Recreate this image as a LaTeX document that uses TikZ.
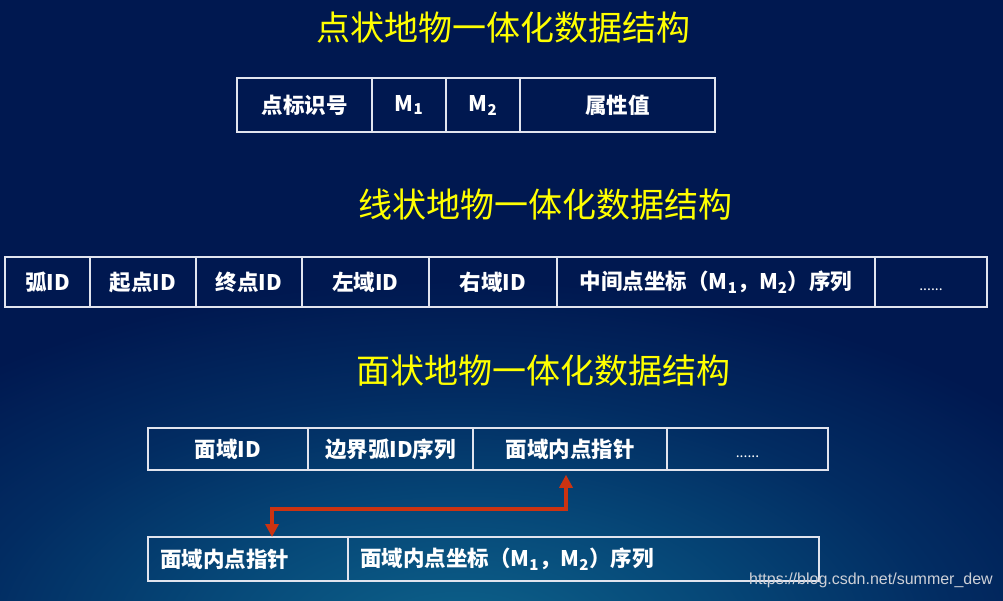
\documentclass[tikz,border=0pt]{standalone}
\usepackage{fontspec}
\setmainfont{Noto Sans CJK SC}
\newfontfamily\wmfont{Liberation Sans}
\usetikzlibrary{arrows.meta}
\definecolor{navy}{RGB}{0,24,80}
\definecolor{glowA}{RGB}{14,100,140}
\definecolor{glowB}{RGB}{6,72,120}
\definecolor{glowC}{RGB}{2,44,98}
\definecolor{boxline}{RGB}{225,228,238}
\definecolor{titleyellow}{RGB}{255,255,0}
\definecolor{arrowred}{RGB}{204,51,17}
\definecolor{wmgray}{RGB}{205,208,215}
\pgfdeclareradialshading{bgglow}{\pgfpoint{0bp}{0bp}}{color(0bp)=(glowA); color(9bp)=(glowB); color(17bp)=(glowC); color(25bp)=(navy); color(50bp)=(navy)}
\begin{document}
\begin{tikzpicture}[x=1pt,y=-1pt,
  title/.style={text=titleyellow, font=\fontsize{34}{34}\selectfont, inner sep=0pt},
  cell/.style={draw=boxline, line width=1.5pt, text=white, font=\bfseries\fontsize{21.5}{21.5}\selectfont, inner sep=0pt},
  prow/.style={cell, minimum height=54pt},
  lrow/.style={cell, minimum height=50pt},
  frow/.style={cell, minimum height=42pt},
  irow/.style={cell, minimum height=44pt, inner xsep=12pt, align=left},
  dots/.style={font=\fontsize{14}{14}\selectfont, text height=17pt, text depth=0pt},
  ptr/.style={draw=arrowred, line width=3.2pt, {Triangle[length=13pt,width=13pt]}-{Triangle[length=13pt,width=13pt]}},
]
\useasboundingbox (0,0) rectangle (1003,600);
\fill[navy] (0,0) rectangle (1003,600);
\begin{scope}
  \clip (0,0) rectangle (1003,600);
  \shade[shading=bgglow] (460,640) ellipse (720 and 360);
\end{scope}

% titles
\node[title] (t1) at (503.5,28) {点状地物一体化数据结构};
\node[title] (t2) at (545,205) {线状地物一体化数据结构};
\node[title] (t3) at (543,371) {面状地物一体化数据结构};

% point structure
\node[prow, minimum width=135pt] (p1) at (304.5,105) {点标识号};
\node[prow, minimum width=74pt]  (p2) at (409,105) {M\textsubscript{1}};
\node[prow, minimum width=74pt]  (p3) at (483,105) {M\textsubscript{2}};
\node[prow, minimum width=195pt] (p4) at (617.5,105) {属性值};

% line structure
\node[lrow, minimum width=85pt]  (l1) at (47.5,282) {弧ID};
\node[lrow, minimum width=106pt] (l2) at (143,282) {起点ID};
\node[lrow, minimum width=106pt] (l3) at (249,282) {终点ID};
\node[lrow, minimum width=127pt] (l4) at (365.5,282) {左域ID};
\node[lrow, minimum width=128pt] (l5) at (493,282) {右域ID};
\node[lrow, minimum width=318pt] (l6) at (716,282) {中间点坐标（M\textsubscript{1}，M\textsubscript{2}）序列};
\node[lrow, dots, minimum width=112pt] (l7) at (931,282) {......};

% face structure
\node[frow, minimum width=160pt] (f1) at (228,449) {面域ID};
\node[frow, minimum width=165pt] (f2) at (390.5,449) {边界弧ID序列};
\node[frow, minimum width=194pt] (f3) at (570,449) {面域内点指针};
\node[frow, dots, minimum width=161pt] (f4) at (747.5,449) {......};

% inner point structure
\node[irow, text width=176pt] (i1) at (248,559) {面域内点指针};
\node[irow, text width=447pt] (i2) at (583.5,559) {面域内点坐标（M\textsubscript{1}，M\textsubscript{2}）序列};

% pointer arrow
\coordinate (hz) at (272,509);
\coordinate (tgt) at (272,537);
\draw[ptr] ([xshift=-4pt,yshift=-4pt]f3.south) |- (hz) -- (tgt);

% watermark
\node[anchor=east, text=wmgray, font=\wmfont\fontsize{16}{16}\selectfont, inner sep=0pt] (wm) at (993,580) {https://blog.csdn.net/summer\_dew};
\end{tikzpicture}
\end{document}
